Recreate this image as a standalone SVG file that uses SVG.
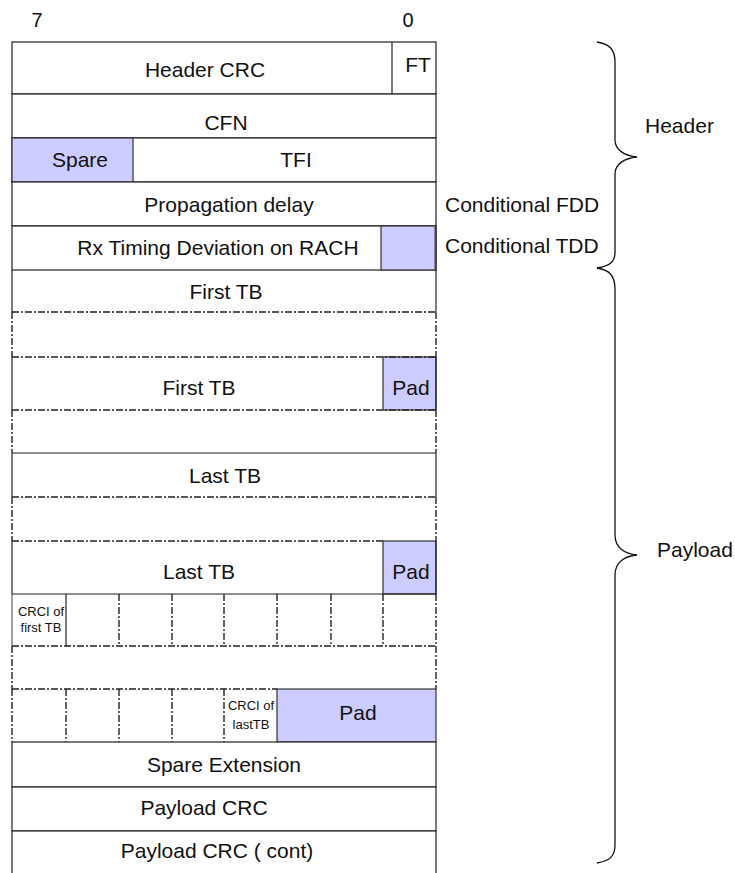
<svg xmlns="http://www.w3.org/2000/svg" width="735" height="873" viewBox="0 0 735 873">
<style>
text{font-family:"Liberation Sans",Arial,sans-serif;font-size:21px;fill:#111;text-anchor:middle}
.s{font-size:13px}
.l{text-anchor:start}
.box{fill:#fff;stroke:#222;stroke-width:1.2}
.blue{fill:#ccccff;stroke:#333;stroke-width:1.2}
.ln{stroke:#222;stroke-width:1.2;fill:none}
.dd{stroke:#222;stroke-width:1.4;fill:none;stroke-dasharray:7 2 2 2}
.br{stroke:#111;stroke-width:1.3;fill:none}
</style>
<g id="bits">
<text x="37" y="27" style="font-size:20px">7</text>
<text x="408" y="27" style="font-size:20px">0</text>
</g>
<g id="header-crc">
<rect class="box" x="12" y="42" width="424" height="52"/>
<line class="ln" x1="392" y1="42" x2="392" y2="94"/>
<text x="205" y="77">Header CRC</text>
<text x="418" y="72">FT</text>
</g>
<g id="cfn">
<rect class="box" x="12" y="94" width="424" height="44"/>
<text x="226" y="130">CFN</text>
</g>
<g id="spare-tfi">
<rect class="box" x="12" y="138" width="424" height="44"/>
<rect class="blue" x="12" y="138" width="121" height="44"/>
<text x="80" y="167">Spare</text>
<text x="296" y="167">TFI</text>
</g>
<g id="prop-delay">
<rect class="box" x="12" y="182" width="424" height="44"/>
<text x="229" y="212">Propagation delay</text>
</g>
<g id="rx-timing">
<rect class="box" x="12" y="226" width="424" height="44"/>
<rect class="blue" x="381" y="226" width="55" height="44"/>
<line x1="435.5" y1="226" x2="435.5" y2="270" stroke="#444" stroke-width="2"/>
<text x="218" y="255">Rx Timing Deviation on RACH</text>
</g>
<g id="first-tb-1">
<line class="ln" x1="12" y1="270" x2="12" y2="312"/>
<line class="ln" x1="436" y1="270" x2="436" y2="312"/>
<line class="dd" x1="12" y1="312" x2="436" y2="312"/>
<text x="226" y="299">First TB</text>
</g>
<g id="gap-1">
<line class="dd" x1="12" y1="312" x2="12" y2="357"/>
<line class="dd" x1="436" y1="312" x2="436" y2="357"/>
</g>
<g id="first-tb-2">
<rect class="blue" x="383" y="357" width="53" height="53"/>
<line class="ln" x1="12" y1="357" x2="12" y2="410"/>
<line class="ln" x1="436" y1="357" x2="436" y2="410"/>
<line class="dd" x1="12" y1="357" x2="436" y2="357"/>
<line class="dd" x1="12" y1="410" x2="436" y2="410"/>
<text x="199" y="395">First TB</text>
<text x="411" y="395">Pad</text>
</g>
<g id="gap-2">
<line class="dd" x1="12" y1="410" x2="12" y2="453"/>
<line class="dd" x1="436" y1="410" x2="436" y2="453"/>
</g>
<g id="last-tb-1">
<line class="ln" x1="12" y1="453" x2="436" y2="453"/>
<line class="ln" x1="12" y1="453" x2="12" y2="497"/>
<line class="ln" x1="436" y1="453" x2="436" y2="497"/>
<line class="dd" x1="12" y1="497" x2="436" y2="497"/>
<text x="225" y="483">Last TB</text>
</g>
<g id="gap-3">
<line class="dd" x1="12" y1="497" x2="12" y2="541"/>
<line class="dd" x1="436" y1="497" x2="436" y2="541"/>
</g>
<g id="last-tb-2">
<rect class="blue" x="383" y="541" width="53" height="53"/>
<line class="ln" x1="12" y1="541" x2="12" y2="594"/>
<line class="ln" x1="436" y1="541" x2="436" y2="594"/>
<line class="dd" x1="12" y1="541" x2="383" y2="541"/>
<line class="ln" x1="12" y1="594" x2="436" y2="594"/>
<text x="199" y="579">Last TB</text>
<text x="411" y="579">Pad</text>
</g>
<g id="crci-first">
<line x1="12" y1="594" x2="12" y2="646" stroke="#777" stroke-width="1.4"/>
<line class="ln" x1="66" y1="594" x2="66" y2="646"/>
<line class="dd" x1="119" y1="594" x2="119" y2="646"/>
<line class="dd" x1="172" y1="594" x2="172" y2="646"/>
<line class="dd" x1="224" y1="594" x2="224" y2="646" stroke-width="1.8"/>
<line class="dd" x1="277" y1="594" x2="277" y2="646"/>
<line class="dd" x1="331" y1="594" x2="331" y2="646"/>
<line class="dd" x1="383" y1="594" x2="383" y2="646" stroke-width="1.8"/>
<line class="dd" x1="436" y1="594" x2="436" y2="646"/>
<line class="dd" x1="12" y1="646" x2="436" y2="646"/>
<text class="s" x="41" y="616">CRCI of</text>
<text class="s" x="41" y="632">first TB</text>
</g>
<g id="gap-4">
<line class="dd" x1="12" y1="646" x2="12" y2="689"/>
<line class="dd" x1="436" y1="646" x2="436" y2="689"/>
</g>
<g id="crci-last">
<rect class="blue" x="277" y="689" width="159" height="53"/>
<line class="dd" x1="12" y1="689" x2="277" y2="689"/>
<line class="dd" x1="12" y1="689" x2="12" y2="742"/>
<line class="dd" x1="66" y1="689" x2="66" y2="742"/>
<line class="dd" x1="119" y1="689" x2="119" y2="742"/>
<line class="dd" x1="172" y1="689" x2="172" y2="742"/>
<line class="dd" x1="224" y1="689" x2="224" y2="742" stroke-width="1.8"/>
<text class="s" x="251" y="710">CRCI of</text>
<text class="s" x="251" y="729">lastTB</text>
<text x="358" y="720">Pad</text>
</g>
<g id="spare-ext">
<rect class="box" x="12" y="742" width="424" height="45"/>
<text x="224" y="772">Spare Extension</text>
</g>
<g id="payload-crc">
<rect class="box" x="12" y="787" width="424" height="44"/>
<text x="204" y="815">Payload CRC</text>
</g>
<g id="payload-crc-cont">
<rect class="box" x="12" y="831" width="424" height="50"/>
<text x="217" y="858">Payload CRC ( cont)</text>
</g>
<g id="side-labels">
<text class="l" x="445" y="212">Conditional FDD</text>
<text class="l" x="445" y="253">Conditional TDD</text>
<text class="l" x="645" y="133">Header</text>
<text class="l" x="657" y="557">Payload</text>
</g>
<g id="connectors">
<path class="br" d="M597 42 C610 44 615 50 615 62 L615 140 C615 150 625 156 637 157 C625 158 615 164 615 174 L615 252 C615 262 610 266 597 268"/>
<path class="br" d="M597 268 C610 270 615 276 615 290 L615 535 C615 548 625 554 637 555 C625 556 615 562 615 575 L615 845 C615 856 610 861 597 863"/>
</g>
</svg>
